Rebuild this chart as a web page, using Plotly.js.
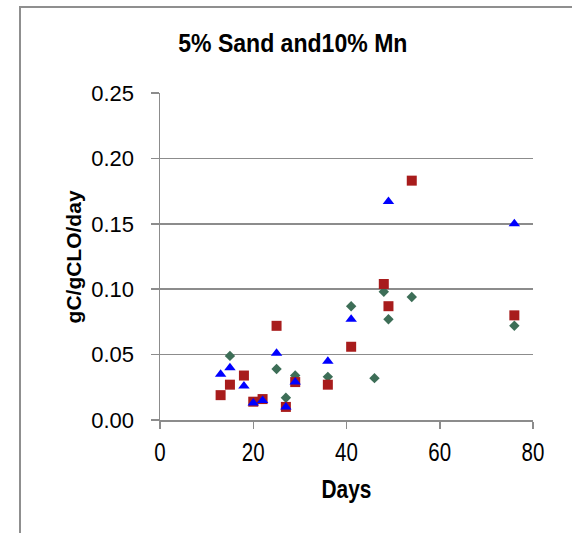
<!DOCTYPE html>
<html>
<head>
<meta charset="utf-8">
<script src="https://cdn.plot.ly/plotly-3.0.1.min.js"></script>
<style>
  html, body { margin: 0; padding: 0; background: #fff; }
  #wrap { position: relative; width: 572px; height: 533px; overflow: hidden; }
  #chart { width: 572px; height: 533px; }
  #frame { position: absolute; left: 19px; top: 6px; width: 700px; height: 700px;
           border-left: 2px solid #8f8f8f; border-top: 2px solid #8f8f8f; pointer-events: none; }
</style>
</head>
<body>
<div id="wrap">
  <div id="chart"></div>
  <div id="frame"></div>
</div>
<script>
// Data
const greenDays   = [15, 25, 27, 29, 36, 41, 46, 48, 49, 54, 76];
const greenValues = [0.049, 0.039, 0.017, 0.034, 0.033, 0.087, 0.032, 0.098, 0.077, 0.094, 0.072];

const redDays   = [13, 15, 18, 20, 22, 25, 27, 29, 36, 41, 48, 49, 54, 76];
const redValues = [0.019, 0.027, 0.034, 0.014, 0.016, 0.072, 0.010, 0.029, 0.027, 0.056, 0.104, 0.087, 0.183, 0.080];

const blueDays   = [13, 15, 18, 20, 22, 25, 27, 29, 36, 41, 49, 76];
const blueValues = [0.035, 0.040, 0.026, 0.013, 0.015, 0.051, 0.010, 0.029, 0.045, 0.077, 0.167, 0.150];

const chartTitle = "5% Sand and10% Mn";
const xTitle = "Days";
const yTitle = "gC/gCLO/day";

const regular = "Liberation Sans, Arial, Helvetica, sans-serif";
const gray = "#8c8c8c";

const traces = [
  { x: greenDays, y: greenValues, type: "scatter", mode: "markers", name: "green",
    marker: { symbol: "diamond", size: 8, color: "#3d6e57" } },
  { x: redDays, y: redValues, type: "scatter", mode: "markers", name: "red",
    marker: { symbol: "square", size: 10, color: "#a81c1c" } },
  { x: blueDays, y: blueValues, type: "scatter", mode: "markers", name: "blue",
    marker: { symbol: "triangle-up", size: 10, color: "#0000ff" } }
];

const layout = {
  width: 572, height: 533,
  margin: { l: 160, r: 39.3, t: 93.3, b: 113, pad: 0 },
  paper_bgcolor: "#ffffff", plot_bgcolor: "#ffffff",
  showlegend: false,
  xaxis: {
    range: [0, 80], tick0: 0, dtick: 20, showgrid: false, zeroline: false,
    showline: true, linecolor: gray, linewidth: 1.5,
    ticks: "outside", ticklen: 7, tickcolor: gray, tickwidth: 1.5,
    tickfont: { family: regular, size: 25, color: "#000" },
    ticklabelstandoff: 3, fixedrange: true
  },
  yaxis: {
    range: [0, 0.25], tick0: 0, dtick: 0.05, tickformat: ".2f",
    showgrid: true, gridcolor: gray, gridwidth: 1.5, zeroline: false,
    showline: true, linecolor: gray, linewidth: 1.5,
    ticks: "outside", ticklen: 8, tickcolor: gray, tickwidth: 1.5,
    tickfont: { family: regular, size: 22, color: "#000" },
    ticklabelstandoff: 12, fixedrange: true
  },
  annotations: [
    { text: "<b>" + chartTitle + "</b>", xref: "paper", yref: "paper",
      x: 0.357, y: 1.1515, xanchor: "center", yanchor: "middle", showarrow: false,
      font: { family: regular, size: 26.5, color: "#000" } },
    { text: "<b>" + xTitle + "</b>", xref: "paper", yref: "paper",
      x: 0.5, y: -0.2112, xanchor: "center", yanchor: "middle", showarrow: false,
      font: { family: regular, size: 25.5, color: "#000" } },
    { text: "<b>" + yTitle + "</b>", xref: "paper", yref: "paper",
      x: -0.2307, y: 0.5, xanchor: "center", yanchor: "middle", showarrow: false,
      textangle: -90,
      font: { family: regular, size: 21, color: "#000" } }
  ]
};

function condense(el, s) {
  const bb = el.getBBox();
  const cx = bb.x + bb.width / 2;
  const prev = el.getAttribute("transform") || "";
  el.setAttribute("transform",
    prev + " translate(" + cx + ",0) scale(" + s + ",1) translate(" + (-cx) + ",0)");
}

Plotly.newPlot("chart", traces, layout, { displayModeBar: false, staticPlot: true }).then(function (gd) {
  gd.querySelectorAll('g.annotation[data-index="0"] text').forEach(function (t) { condense(t, 0.87); });
  gd.querySelectorAll('g.annotation[data-index="1"] text').forEach(function (t) { condense(t, 0.82); });
  gd.querySelectorAll('g.xtick text').forEach(function (t) { condense(t, 0.82); });
});
</script>
</body>
</html>
